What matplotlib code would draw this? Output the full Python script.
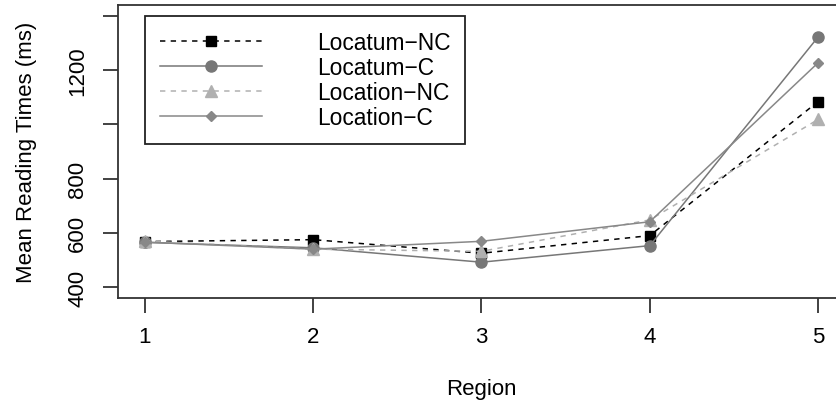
import matplotlib
matplotlib.use("Agg")
import matplotlib.pyplot as plt

regions = [1, 2, 3, 4, 5]
locatum_nc = [568, 575, 525, 590, 1084]
locatum_c = [565, 545, 492, 553, 1322]
location_nc = [570, 540, 532, 648, 1018]
location_c = [566, 540, 569, 641, 1227]

yticks = [400, 600, 800, 1000, 1200, 1400]
ytick_labels = ['400', '600', '800', '', '1200', '']

plt.rcParams['font.family'] = ['Liberation Sans', 'DejaVu Sans']

fig = plt.figure(figsize=(8.36, 4.02), dpi=100)
W, H = 836, 402
ax = fig.add_axes([118 / W, 1 - 299 / H, 727 / W, 293 / H])

ax.plot(regions, locatum_nc, color='black', ls=(0, (3.5, 3.5)), lw=1.1,
        marker='s', ms=7.5, label='Locatum\u2212NC')
ax.plot(regions, locatum_c, color='#777777', ls='-', lw=1.1,
        marker='o', ms=8, label='Locatum\u2212C')
ax.plot(regions, location_nc, color='#b0b0b0', ls=(0, (3.5, 3.5)), lw=1.1,
        marker='^', ms=9, label='Location\u2212NC')
ax.plot(regions, location_c, color='#888888', ls='-', lw=1.1,
        marker='D', ms=5, label='Location\u2212C')

ax.set_xlim(0.84, 5.16)
ax.set_ylim(360, 1440)
ax.set_xticks(regions)
ax.set_xticklabels([str(r) for r in regions])
ax.set_yticks(yticks)
ax.set_yticklabels(ytick_labels, rotation=90, va='center')

for s in ax.spines.values():
    s.set_linewidth(1.3)
    s.set_color('#333333')
ax.tick_params(axis='both', length=10.5, width=1.3, color='#333333',
               labelsize=16)
ax.tick_params(axis='x', pad=10)
ax.tick_params(axis='y', pad=11)

ax.set_xlabel('Region', fontsize=16, labelpad=22)
ax.set_ylabel('Mean Reading Times (ms)', fontsize=16, labelpad=22)

leg = ax.legend(loc='upper left', bbox_to_anchor=(145 / W, 1 - 17 / H),
                bbox_transform=fig.transFigure, fontsize=16.4,
                handlelength=4.5, handletextpad=2.39, labelspacing=0.09,
                borderpad=0.65, borderaxespad=0, fancybox=False,
                framealpha=1, edgecolor='#222222')
leg.get_frame().set_linewidth(1.3)

fig.savefig('out.png', dpi=100)
